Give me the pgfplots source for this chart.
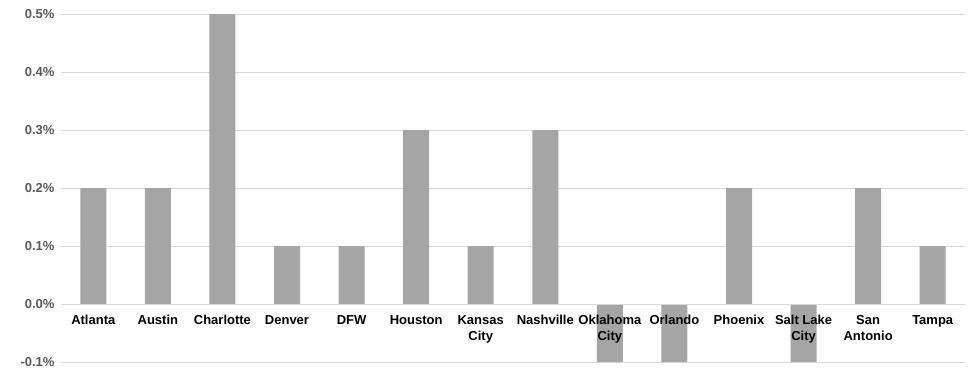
\documentclass[border=0pt]{standalone}
\usepackage{pgfplots}
\pgfplotsset{compat=1.18}
\usepackage{fontspec}
\setmainfont{Liberation Sans}
\definecolor{barc}{HTML}{A5A5A5}
\definecolor{gridc}{HTML}{D9D9D9}
\definecolor{ylab}{HTML}{595959}
\pgfplotsset{common/.style={
  at={(61pt,6pt)}, anchor=south west,
  scale only axis, width=904pt, height=348pt,
  xmin=-0.5, xmax=13.5, ymin=-0.1, ymax=0.5,
  axis x line*=middle, axis y line*=left,
  y axis line style={draw=none},
  ytick={-0.1,0,0.1,0.2,0.3,0.4,0.5},
  major tick length=0pt,
  xtick={0,...,13},
  clip=false,
}}
\begin{document}
\begin{tikzpicture}
\path[use as bounding box] (0,0) rectangle (973pt,368pt);
\begin{axis}[common,
  x axis line style={draw=none},
  ymajorgrids, major grid style={draw=gridc, line width=0.8pt},
  xticklabels={}, yticklabels={},
  ybar, bar width=26pt,
]
\addplot[fill=barc, draw=none] coordinates {
(0,0.2) (1,0.2) (2,0.5) (3,0.1) (4,0.1) (5,0.3) (6,0.1) (7,0.3)
(8,-0.1) (9,-0.1) (10,0.2) (11,-0.1) (12,0.2) (13,0.1)};
\end{axis}
\begin{axis}[common,
  x axis line style={draw=gridc, line width=0.8pt, -},
  xticklabels={Atlanta,Austin,Charlotte,Denver,DFW,Houston,{Kansas\\City},Nashville,{Oklahoma\\City},Orlando,Phoenix,{Salt Lake\\City},{San\\Antonio},Tampa},
  xticklabel style={align=center, font=\fontsize{13}{16}\selectfont\bfseries, text=black, yshift=-8pt},
  /pgf/number format/assume math mode=true,
  yticklabel={\pgfmathprintnumber[fixed,fixed zerofill,precision=1]{\tick}\%},
  yticklabel style={font=\fontsize{13}{14}\selectfont\bfseries, text=ylab, xshift=-3pt},
]
\end{axis}
\end{tikzpicture}
\end{document}
